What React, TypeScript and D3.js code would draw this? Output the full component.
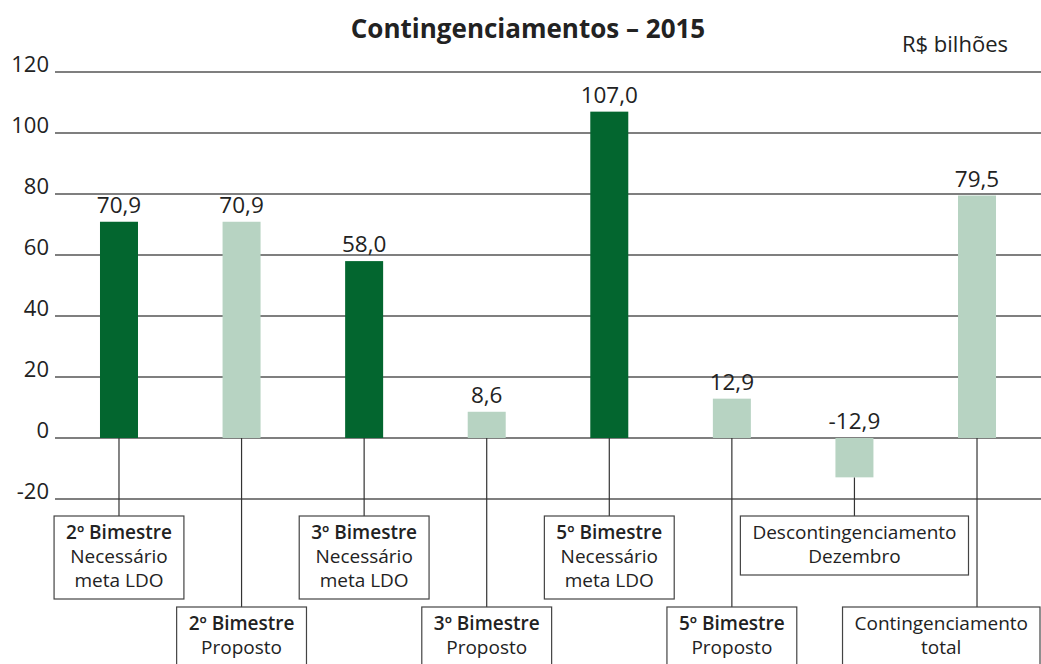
import React from "react";
import * as d3 from "d3";

const categories = [
  "2º Bimestre Necessário meta LDO",
  "2º Bimestre Proposto",
  "3º Bimestre Necessário meta LDO",
  "3º Bimestre Proposto",
  "5º Bimestre Necessário meta LDO",
  "5º Bimestre Proposto",
  "Descontingenciamento Dezembro",
  "Contingenciamento total",
];
const values = [70.9, 70.9, 58.0, 8.6, 107.0, 12.9, -12.9, 79.5];
const kinds = ["necessario", "proposto", "necessario", "proposto", "necessario", "proposto", "proposto", "proposto"];
const labelHeads = ["2º Bimestre", "2º Bimestre", "3º Bimestre", "3º Bimestre", "5º Bimestre", "5º Bimestre", "", ""];
const labelLines = [
  ["Necessário", "meta LDO"],
  ["Proposto"],
  ["Necessário", "meta LDO"],
  ["Proposto"],
  ["Necessário", "meta LDO"],
  ["Proposto"],
  ["Descontingenciamento", "Dezembro"],
  ["Contingenciamento", "total"],
];
const yTicks = [-20, 0, 20, 40, 60, 80, 100, 120];
const title = "Contingenciamentos – 2015";
const unit = "R$ bilhões";

const W = 1041;
const H = 664;
const FONT = "'Open Sans', 'Noto Sans', sans-serif";
const DARK = "#03662f";
const LIGHT = "#b7d3c2";

const locale = d3.formatLocale({ decimal: ",", thousands: ".", grouping: [3], currency: ["R$", ""], minus: "-" });
const fmt = locale.format(".1f");

let ctx: CanvasRenderingContext2D | null = null;
function measure(text: string, weight: number, size: number) {
  if (!ctx) ctx = document.createElement("canvas").getContext("2d");
  if (!ctx) return text.length * size * 0.55;
  ctx.font = `${weight} ${size}px 'Open Sans'`;
  return ctx.measureText(text).width;
}

export default function App() {
  const y = d3.scaleLinear().domain([-20, 120]).range([499, 72]);
  const x = d3
    .scaleBand<string>()
    .domain(categories)
    .range([57.7, 1038.3])
    .paddingInner(0.69)
    .paddingOuter(0.345);
  const bw = x.bandwidth();
  const gridX0 = 55;

  const row1Top = 516;
  const row2Top = 607;
  const lineH = 24;
  const boxFont = 19;
  const headWeight = 600;

  return (
    <svg
      width={W}
      height={H}
      style={{ position: "absolute", left: 0, top: 0, background: "#fff" }}
      fontFamily={FONT}
    >
      <text x={528} y={38} textAnchor="middle" fontSize={26} fontWeight={700} fill="#222">
        {title}
      </text>
      <text x={1008} y={52} textAnchor="end" fontSize={22} fill="#222">
        {unit}
      </text>

      {yTicks.map((t) => (
        <g key={t}>
          <line x1={gridX0} x2={W} y1={y(t)} y2={y(t)} stroke="#555" strokeWidth={1.4} />
          <text x={49} y={y(t)} textAnchor="end" fontSize={22} fill="#222">
            {t}
          </text>
        </g>
      ))}

      {categories.map((c, i) => {
        const v = values[i];
        const cx = (x(c) ?? 0) + bw / 2;
        const row = i % 2 === 0 ? 0 : 1;
        const top = row === 0 ? row1Top : row2Top;
        const head = labelHeads[i];
        const lines = labelLines[i];
        const allLines = head ? [head, ...lines] : lines;
        const widths = allLines.map((l, k) => measure(l, head && k === 0 ? headWeight : 400, boxFont));
        const boxW = Math.max(...widths) + 24;
        const boxH = allLines.length * lineH + 11;
        let bx = cx - boxW / 2;
        bx = Math.min(bx, W - 1 - boxW);
        const bxC = bx + boxW / 2;
        return (
          <g key={c}>
            <line
              x1={cx}
              x2={cx}
              y1={y(Math.min(v, 0))}
              y2={top}
              stroke="#333"
              strokeWidth={1.2}
            />
            <rect
              x={x(c)}
              y={y(Math.max(v, 0))}
              width={bw}
              height={Math.abs(y(v) - y(0))}
              fill={kinds[i] === "necessario" ? DARK : LIGHT}
            />
            <text
              x={cx}
              y={y(Math.max(v, 0)) - 9}
              textAnchor="middle"
              fontSize={22.5}
              fill="#222"
            >
              {fmt(v)}
            </text>
            <rect
              x={bx}
              y={top}
              width={boxW}
              height={boxH}
              fill="#fff"
              stroke="#444"
              strokeWidth={1.2}
            />
            {allLines.map((l, k) => (
              <text
                key={k}
                x={bxC}
                y={top + 23 + k * lineH}
                textAnchor="middle"
                fontSize={boxFont}
                fontWeight={head && k === 0 ? headWeight : 400}
                fill="#222"
              >
                {l}
              </text>
            ))}
          </g>
        );
      })}
    </svg>
  );
}
